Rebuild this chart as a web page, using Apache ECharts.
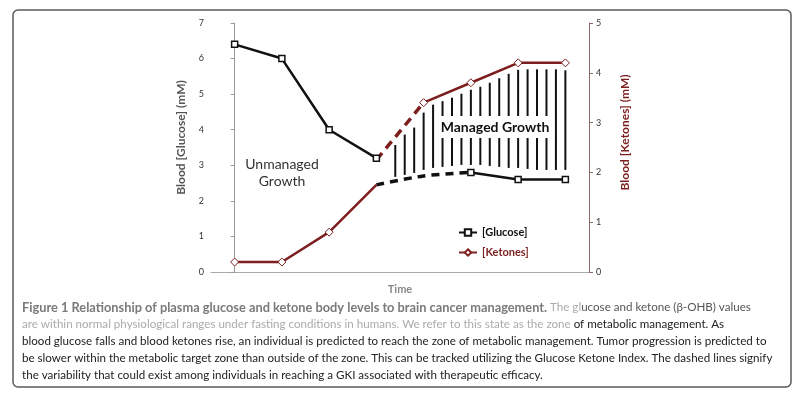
<!DOCTYPE html>
<html>
<head>
<meta charset="utf-8">
<script src="https://cdn.jsdelivr.net/npm/echarts@6/dist/echarts.min.js"></script>
<style>
  html, body { margin: 0; background: #fff; }
  #chart { width: 800px; height: 398px; }
</style>
</head>
<body>
<div id="chart"></div>
<script>
// time points (unlabelled on the figure)
const timePoints = ['T1', 'T2', 'T3', 'T4', 'T5', 'T6', 'T7', 'T8']

// glucose (mM), left axis
const glucose = [6.4, 6.0, 4.0, 3.2, null, 2.8, 2.6, 2.6]
const glucoseDashed = [null, null, null, 2.45, 2.7, 2.8, null, null]

// ketones (mM), right axis
const ketonesLow = [0.2, 0.2, 0.8, 1.75, null, null, null, null]
const ketonesHigh = [null, null, null, null, 3.4, 3.8, 4.2, 4.2]
const ketonesDashed = [null, null, null, 2.25, 3.4, null, null, null]

// hatch lines of the managed zone, in ketone units
const hatchX = [3.4, 3.6, 3.8, 4.0, 4.2, 4.4, 4.6, 4.8, 5.0, 5.2, 5.4, 5.6, 5.8, 6.0, 6.2, 6.4, 6.6, 6.8, 7.0]
const hatchTop = [2.55, 2.76, 2.9, 3.2, 3.36, 3.43, 3.5, 3.58, 3.66, 3.72, 3.8, 3.89, 3.98, 4.06, 4.07, 4.07, 4.07, 4.07, 4.05]
const hatchBottom = [1.91, 1.95, 1.99, 2.05, 2.09, 2.11, 2.13, 2.15, 2.15, 2.15, 2.13, 2.11, 2.09, 2.09, 2.07, 2.05, 2.05, 2.05, 2.05]

const FONT = 'Lato, "Open Sans", sans-serif'
const RED = '#7d1f1f'
const BLACK = '#111'

function renderHatch(params, api) {
  const top = api.coord([api.value(0), api.value(2)])
  const bottom = api.coord([api.value(0), api.value(1)])
  return {
    type: 'line',
    shape: { x1: top[0], y1: top[1], x2: bottom[0], y2: bottom[1] },
    style: { stroke: BLACK, lineWidth: 2 },
  }
}

const caption = [
  '{fb|Figure 1 Relationship of plasma glucose and ketone body levels to brain cancer management.}{fl| The gl}{fm|ucose and ketone (β-OHB) values}',
  '{fl|are within normal physiological ranges under fasting conditions in humans. We refer to this state as the zone}{k| of metabolic management. As}',
  '{k|blood glucose falls and blood ketones rise, an individual is predicted to reach the zone of metabolic management. Tumor progression is predicted to}',
  '{k|be slower within the metabolic target zone than outside of the zone. This can be tracked utilizing the Glucose Ketone Index. The dashed lines signify}',
  '{k|the variability that could exist among individuals in reaching a GKI associated with therapeutic efficacy.}',
].join('\n')

const capSize = 11.6
const capLine = 17

const chart = echarts.init(document.getElementById('chart'), null, { renderer: 'canvas' })

chart.setOption({
  animation: false,
  textStyle: { fontFamily: FONT },
  grid: { left: 211, right: 211, top: 23, bottom: 126 },
  legend: {
    orient: 'vertical',
    left: 453,
    top: 222,
    itemGap: 9,
    itemWidth: 18,
    itemHeight: 8,
    data: [
      { name: '[Glucose]', textStyle: { color: BLACK } },
      { name: '[Ketones]', textStyle: { color: RED } },
    ],
    textStyle: { fontSize: 11, fontWeight: 'bold', fontFamily: FONT },
  },
  xAxis: [
    {
      type: 'category',
      data: timePoints,
      boundaryGap: true,
      axisLine: { lineStyle: { color: '#aaa', width: 1 } },
      axisTick: { show: false },
      axisLabel: { show: false },
      name: 'Time',
      nameLocation: 'middle',
      nameGap: 12,
      nameTextStyle: { color: '#888', fontSize: 11, fontWeight: 'bold', fontFamily: FONT },
    },
    { type: 'value', min: -0.5, max: 7.5, show: false },
  ],
  yAxis: [
    {
      type: 'value',
      min: 0,
      max: 7,
      interval: 1,
      splitLine: { show: false },
      axisLine: { show: true, lineStyle: { color: '#999' } },
      axisTick: { show: true, length: 4, lineStyle: { color: '#999' } },
      axisLabel: { color: '#333', fontSize: 9, margin: 7 },
      name: 'Blood [Glucose] (mM)',
      nameLocation: 'middle',
      nameRotate: 90,
      nameGap: 24,
      nameTextStyle: { color: '#555', fontSize: 12, fontWeight: 'bold', fontFamily: FONT, padding: [0, 0, 0, 20] },
    },
    {
      type: 'value',
      position: 'right',
      min: 0,
      max: 5,
      interval: 1,
      splitLine: { show: false },
      axisLine: { show: true, lineStyle: { color: '#8c6a6a' } },
      axisTick: { show: true, length: 4, lineStyle: { color: '#8c6a6a' } },
      axisLabel: { color: '#333', fontSize: 9, margin: 7 },
      name: 'Blood [Ketones] (mM)',
      nameLocation: 'middle',
      nameRotate: 90,
      nameGap: 30,
      nameTextStyle: { color: RED, fontSize: 12, fontWeight: 'bold', fontFamily: FONT, padding: [0, 0, 0, 30] },
    },
  ],
  series: [
    {
      type: 'custom',
      xAxisIndex: 1,
      yAxisIndex: 1,
      renderItem: renderHatch,
      encode: { x: 0, y: [1, 2] },
      silent: true,
      z: 1,
      data: hatchX.map((x, i) => [x, hatchBottom[i], hatchTop[i]]),
    },
    {
      name: 'glucose-dashed',
      type: 'line',
      yAxisIndex: 0,
      data: glucoseDashed,
      smooth: 0.3,
      showSymbol: false,
      lineStyle: { color: BLACK, width: 3.5, type: [8, 6] },
      z: 2,
    },
    {
      name: 'ketones-dashed',
      type: 'line',
      yAxisIndex: 1,
      data: ketonesDashed,
      showSymbol: false,
      lineStyle: { color: RED, width: 3.5, type: [9, 6] },
      z: 2,
    },
    {
      name: '[Glucose]',
      type: 'line',
      yAxisIndex: 0,
      data: glucose,
      symbol: 'rect',
      symbolSize: 6,
      itemStyle: { color: '#fff', borderColor: BLACK, borderWidth: 1.5 },
      lineStyle: { color: BLACK, width: 2.5 },
      z: 3,
    },
    {
      name: '[Ketones]',
      type: 'line',
      yAxisIndex: 1,
      data: ketonesLow.map((v, i) => (i === 3 ? { value: v, symbol: 'none' } : v)),
      symbol: 'diamond',
      symbolSize: 8,
      itemStyle: { color: '#fff', borderColor: RED, borderWidth: 1 },
      lineStyle: { color: RED, width: 2.5 },
      z: 3,
    },
    {
      name: '[Ketones]',
      type: 'line',
      yAxisIndex: 1,
      data: ketonesHigh,
      symbol: 'diamond',
      symbolSize: 8,
      itemStyle: { color: '#fff', borderColor: RED, borderWidth: 1 },
      lineStyle: { color: RED, width: 2.5 },
      z: 3,
    },
  ],
  graphic: [
    {
      type: 'rect',
      shape: { x: 13, y: 10, width: 778, height: 377, r: 5 },
      style: { fill: 'none', stroke: '#5a5a5a', lineWidth: 1.5 },
      z: 0,
    },
    {
      type: 'text',
      x: 282,
      y: 173,
      style: {
        text: 'Unmanaged\nGrowth',
        align: 'center',
        verticalAlign: 'middle',
        font: '14px ' + FONT,
        lineHeight: 17,
        fill: '#333',
      },
      z: 10,
    },
    {
      type: 'text',
      x: 495,
      y: 127,
      style: {
        text: 'Managed Growth',
        align: 'center',
        verticalAlign: 'middle',
        font: 'bold 14px ' + FONT,
        fill: BLACK,
        backgroundColor: '#fff',
        padding: [4, 5],
      },
      z: 10,
    },
    {
      type: 'text',
      x: 22,
      y: 299,
      style: {
        text: caption,
        fill: '#222',
        font: capSize + 'px ' + FONT,
        lineHeight: capLine,
        rich: {
          fb: { fontWeight: 'bold', fill: '#7a7a7a', fontSize: 12.8, lineHeight: capLine, fontFamily: FONT },
          fl: { fill: '#ababab', fontSize: capSize, lineHeight: capLine, fontFamily: FONT },
          fm: { fill: '#555', fontSize: capSize, lineHeight: capLine, fontFamily: FONT },
          k: { fill: '#222', fontSize: capSize, lineHeight: capLine, fontFamily: FONT },
        },
      },
      z: 10,
    },
  ],
})
</script>
</body>
</html>
